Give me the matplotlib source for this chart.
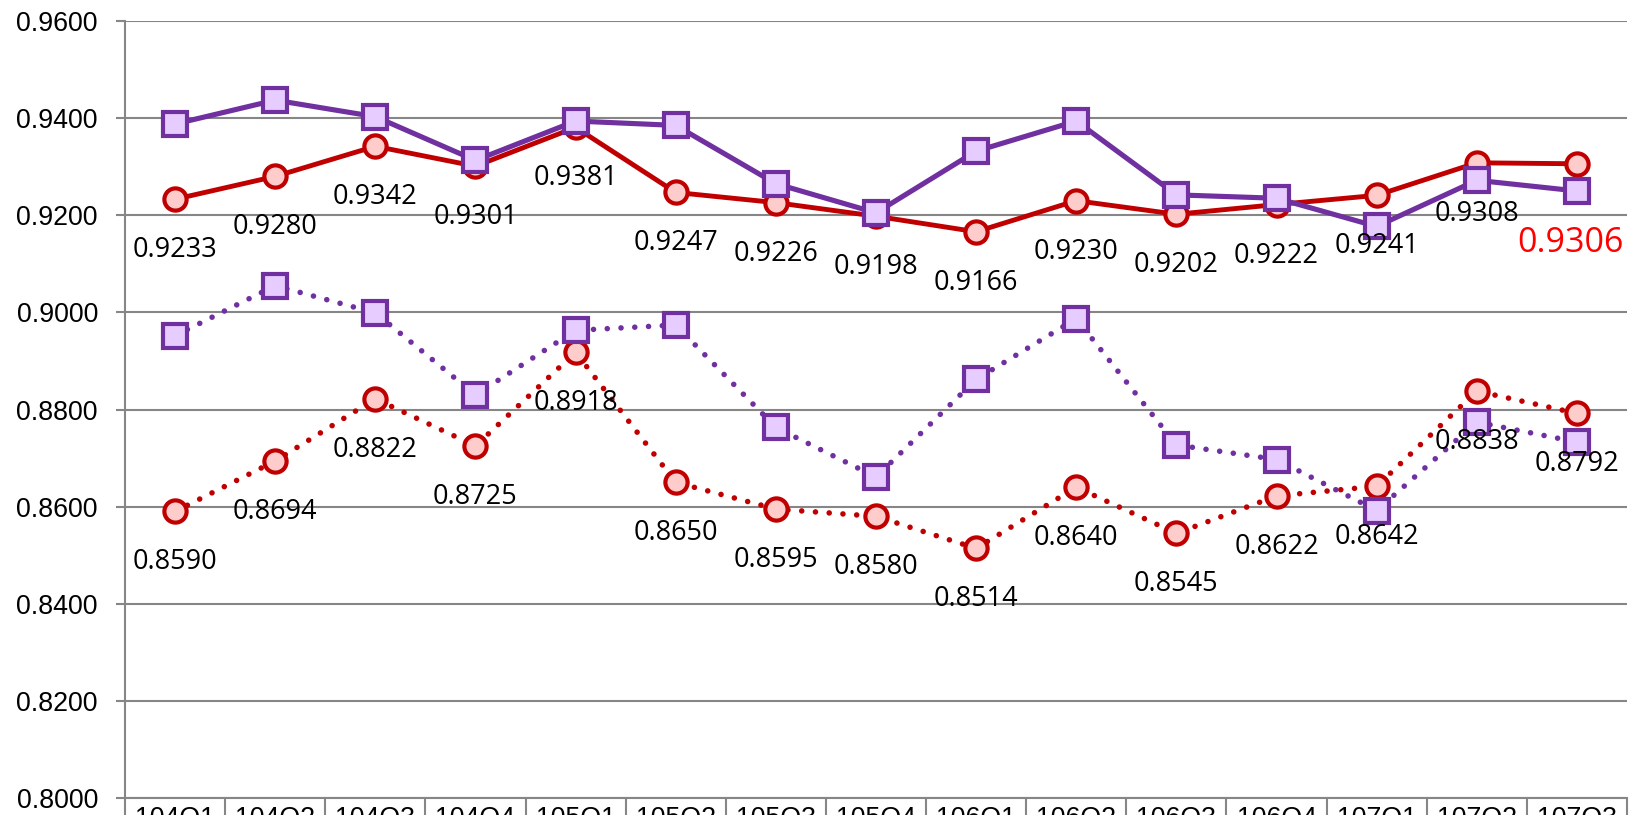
import numpy as np
import matplotlib
matplotlib.use('Agg')
import matplotlib.pyplot as plt

plt.rcParams['font.family'] = ['Liberation Sans', 'DejaVu Sans']

quarters = ['104Q1', '104Q2', '104Q3', '104Q4', '105Q1', '105Q2', '105Q3', '105Q4',
            '106Q1', '106Q2', '106Q3', '106Q4', '107Q1', '107Q2', '107Q3']
# solid lines (top pair)
red_solid = [0.9233, 0.9280, 0.9342, 0.9301, 0.9381, 0.9247, 0.9226, 0.9198,
             0.9166, 0.9230, 0.9202, 0.9222, 0.9241, 0.9308, 0.9306]
purple_solid = [0.9388, 0.9437, 0.9403, 0.9313, 0.9394, 0.9385, 0.9265, 0.9205,
                0.9332, 0.9394, 0.9242, 0.9235, 0.9177, 0.9272, 0.9250]
# dotted lines (bottom pair)
red_dot = [0.8590, 0.8694, 0.8822, 0.8725, 0.8918, 0.8650, 0.8595, 0.8580,
           0.8514, 0.8640, 0.8545, 0.8622, 0.8642, 0.8838, 0.8792]
purple_dot = [0.8952, 0.9055, 0.8999, 0.8830, 0.8963, 0.8974, 0.8763, 0.8661,
              0.8862, 0.8987, 0.8727, 0.8697, 0.8592, 0.8774, 0.8733]

RED = '#C00000'
PINK = '#FFCCCC'
PURPLE = '#7030A0'
LAVENDER = '#E6CCFF'
GRID = '#868686'
LABEL_FONT = ['Open Sans', 'Noto Sans', 'DejaVu Sans']

fig = plt.figure(figsize=(16.34, 8.15), dpi=100)
ax = fig.add_axes([125 / 1634, 1 - 798 / 815, (1627 - 125) / 1634, 777 / 815])
x = np.arange(len(quarters))

dots = (0, (0.01, 2.47))
ax.plot(x, red_dot, color=RED, lw=4, ls=dots, dash_capstyle='round',
        marker='o', ms=16, mfc=PINK, mec=RED, mew=3, zorder=3)
ax.plot(x, purple_dot, color=PURPLE, lw=4, ls=dots, dash_capstyle='round',
        marker='s', ms=17, mfc=LAVENDER, mec=PURPLE, mew=3, zorder=4)
ax.plot(x, red_solid, color=RED, lw=3.5, marker='o', ms=16, mfc=PINK, mec=RED,
        mew=3, zorder=5)
ax.plot(x, purple_solid, color=PURPLE, lw=3.7, marker='s', ms=17, mfc=LAVENDER,
        mec=PURPLE, mew=3, zorder=6)

# data labels under the red series
for i, v in enumerate(red_solid[:-1]):
    ax.annotate(f'{v:.4f}', (i, v), xytext=(0, -36.7), textcoords='offset points',
                ha='center', va='center', fontsize=19.5, family=LABEL_FONT, zorder=10)
ax.annotate(f'{red_solid[-1]:.4f}', (x[-1], red_solid[-1]), xytext=(-5, -57),
            textcoords='offset points', ha='center', va='center', fontsize=24.5,
            color='#FF0000', family=LABEL_FONT, zorder=10)
for i, v in enumerate(red_dot):
    ax.annotate(f'{v:.4f}', (i, v), xytext=(0, -36.7), textcoords='offset points',
                ha='center', va='center', fontsize=19.5, family=LABEL_FONT, zorder=10)

ax.set_xlim(-0.5, len(quarters) - 0.5)
ax.set_ylim(0.80, 0.96)
yt = np.arange(0.80, 0.9601, 0.02)
ax.set_yticks(yt)
ax.set_yticklabels([f'{t:.4f}' for t in yt])
ax.yaxis.grid(True, color=GRID, lw=1.5)
ax.set_axisbelow(True)

ax.set_xticks(x)
ax.set_xticklabels(quarters)
ax.set_xticks(np.arange(-0.5, len(quarters)), minor=True)
ax.tick_params(axis='x', which='major', length=0, pad=6, labelsize=19.3)
ax.tick_params(axis='x', which='minor', length=30, width=1.5, color=GRID)
ax.tick_params(axis='y', length=6.5, width=1.5, color=GRID, pad=13, labelsize=19.3)

for s in ['top', 'right']:
    ax.spines[s].set_visible(False)
for s in ['left', 'bottom']:
    ax.spines[s].set_color(GRID)
    ax.spines[s].set_linewidth(1.5)

fig.savefig('out.png', dpi=100)
